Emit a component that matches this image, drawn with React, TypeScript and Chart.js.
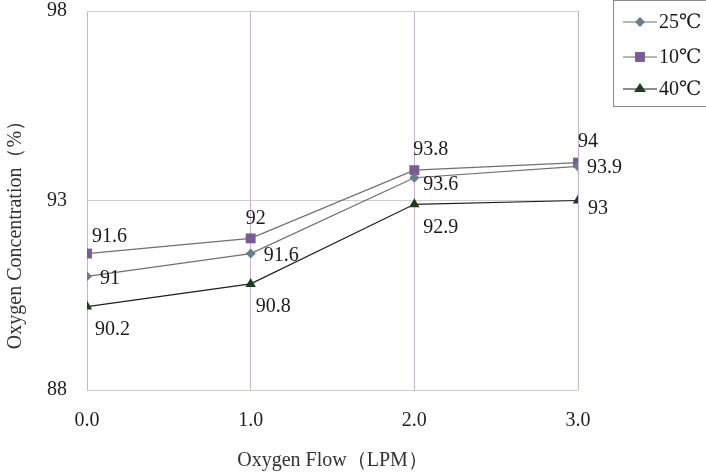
import React, { useEffect, useRef } from "react";
import { Chart, registerables } from "chart.js";

Chart.register(...registerables);

// ---- data ----
const xValues = [0, 1, 2, 3];
const seriesNames = ["25℃", "10℃", "40℃"];
const values25 = [91, 91.6, 93.6, 93.9];
const values10 = [91.6, 92, 93.8, 94];
const values40 = [90.2, 90.8, 92.9, 93];
const yTicks = [88, 93, 98];
const xTitle = "Oxygen Flow（LPM）";
const yTitle = "Oxygen Concentration（%）";

// ---- styles ----
const FONT = "'Liberation Serif', 'DejaVu Serif', serif";
const lineColors = ["#707070", "#707070", "#1e1e1e"];
const markerColors = ["#66808a", "#7a5c92", "#1d3d1f"];
const pointStyles = ["rectRot", "rect", "triangle"];
const pointRadii = [5, 7, 6];
// label offsets (dx to label left edge, dy to label centre) per series/point
const labelOffsets = [
  [[13, 2], [13, 2], [9, 7], [9, 1]],
  [[5, -17], [-5, -20], [-1, -20], [0, -21]],
  [[8, 23], [5, 23], [9, 23], [10, 8]],
];

function drawMarker(ctx: CanvasRenderingContext2D, style: string, x: number, y: number, r: number, color: string) {
  ctx.save();
  ctx.fillStyle = color;
  ctx.beginPath();
  if (style === "rectRot") {
    ctx.moveTo(x, y - r);
    ctx.lineTo(x + r, y);
    ctx.lineTo(x, y + r);
    ctx.lineTo(x - r, y);
  } else if (style === "rect") {
    const s = r * Math.SQRT1_2;
    ctx.rect(x - s, y - s, 2 * s, 2 * s);
  } else {
    const h = r * 1.5;
    ctx.moveTo(x, y - h * 0.66);
    ctx.lineTo(x + r, y + h * 0.34);
    ctx.lineTo(x - r, y + h * 0.34);
  }
  ctx.closePath();
  ctx.fill();
  ctx.restore();
}

const overlay = {
  id: "overlay",
  afterDatasetsDraw(chart: any) {
    const ctx: CanvasRenderingContext2D = chart.ctx;
    ctx.save();
    ctx.font = `20px ${FONT}`;
    ctx.fillStyle = "#1a1a1a";
    ctx.textAlign = "left";
    ctx.textBaseline = "middle";
    chart.data.datasets.forEach((ds: any, i: number) => {
      const meta = chart.getDatasetMeta(i);
      meta.data.forEach((pt: any, j: number) => {
        const v = ds.data[j].y;
        const o = labelOffsets[i][j];
        ctx.fillText(String(v), pt.x + o[0], pt.y + o[1]);
      });
    });

    // y axis title
    ctx.save();
    ctx.translate(16, 230);
    ctx.rotate(-Math.PI / 2);
    ctx.textAlign = "center";
    ctx.textBaseline = "middle";
    ctx.font = `20px ${FONT}`;
    ctx.fillStyle = "#333";
    ctx.fillText(yTitle, 0, 0);
    ctx.restore();

    // legend
    ctx.save();
    ctx.strokeStyle = "#8a8a8a";
    ctx.lineWidth = 1;
    ctx.strokeRect(613.5, 0.5, 120, 106);
    const rows = [22, 57, 89];
    seriesNames.forEach((name, i) => {
      const y = rows[i];
      ctx.strokeStyle = lineColors[i];
      ctx.lineWidth = 1.2;
      ctx.beginPath();
      ctx.moveTo(623, y);
      ctx.lineTo(657, y);
      ctx.stroke();
      drawMarker(ctx, pointStyles[i], 640, y, pointRadii[i], markerColors[i]);
      ctx.fillStyle = "#1a1a1a";
      ctx.font = `20px ${FONT}`;
      ctx.textAlign = "left";
      ctx.textBaseline = "middle";
      ctx.fillText(name, 659, y + 1);
    });
    ctx.restore();

    ctx.restore();
  },
};

export default function App() {
  const ref = useRef<HTMLCanvasElement | null>(null);

  useEffect(() => {
    if (!ref.current) return;
    const series = [values25, values10, values40];
    const chart = new Chart(ref.current, {
      type: "line",
      data: {
        datasets: series.map((vals, i) => ({
          label: seriesNames[i],
          data: vals.map((v, j) => ({ x: xValues[j], y: v })),
          borderColor: lineColors[i],
          borderWidth: 1.2,
          backgroundColor: markerColors[i],
          pointBackgroundColor: markerColors[i],
          pointBorderColor: markerColors[i],
          pointBorderWidth: 0,
          pointStyle: pointStyles[i] as any,
          pointRadius: pointRadii[i],
          tension: 0,
          fill: false,
        })),
      },
      options: {
        animation: false,
        responsive: true,
        maintainAspectRatio: false,
        layout: { padding: { top: 11, right: 128, left: 0, bottom: 0 } },
        plugins: {
          legend: { display: false },
          tooltip: { enabled: false },
        },
        scales: {
          x: {
            type: "linear",
            min: 0,
            max: 3,
            afterBuildTicks: (s: any) => {
              s.ticks = xValues.map((v) => ({ value: v }));
            },
            afterFit: (s: any) => {
              s.height = 84;
              s.paddingLeft = 0;
              s.paddingRight = 0;
            },
            ticks: {
              callback: (v: any) => Number(v).toFixed(1),
              font: { family: FONT, size: 20 },
              color: "#222",
              padding: 19,
              maxRotation: 0,
            },
            grid: { color: "#c4b4cc", lineWidth: 1, drawTicks: false },
            border: { display: false },
            title: {
              display: true,
              text: xTitle,
              font: { family: FONT, size: 20 },
              color: "#333",
              padding: { top: 0, bottom: 1 },
            },
          },
          y: {
            min: 88,
            max: 98,
            afterBuildTicks: (s: any) => {
              s.ticks = yTicks.map((v) => ({ value: v }));
            },
            afterFit: (s: any) => {
              s.width = 87;
              s.paddingTop = 0;
              s.paddingBottom = 0;
            },
            ticks: {
              font: { family: FONT, size: 20 },
              color: "#222",
              padding: 20,
            },
            grid: { color: "#cfcfcf", lineWidth: 1, drawTicks: false },
            border: { display: false },
          },
        },
      },
      plugins: [overlay],
    });
    return () => chart.destroy();
  }, []);

  return (
    <div style={{ position: "absolute", left: 0, top: 0, width: 706, height: 474 }}>
      <canvas ref={ref} />
    </div>
  );
}
